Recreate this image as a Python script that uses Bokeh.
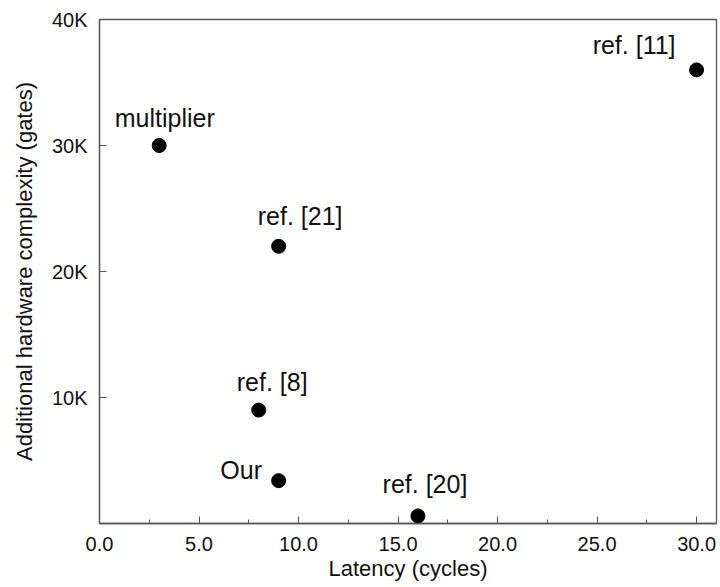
from bokeh.plotting import figure
from bokeh.models import ColumnDataSource, FixedTicker, Range1d
from bokeh.core.properties import value
from bokeh.embed import file_html
from bokeh.resources import INLINE

# data
names = ["multiplier", "ref. [21]", "ref. [8]", "Our", "ref. [20]", "ref. [11]"]
latency = [3, 9, 8, 9, 16, 30]
gates = [30000, 22000, 9000, 3400, 600, 36000]

x_ticks = [0, 5, 10, 15, 20, 25, 30]
x_tick_labels = ["0.0", "5.0", "10.0", "15.0", "20.0", "25.0", "30.0"]
y_ticks = [10000, 20000, 30000, 40000]
y_tick_labels = ["10K", "20K", "30K", "40K"]

# label placement (screen px)
lbl_dx = [5.5, 21.5, 13.5, -37.5, 7, -62.5]
lbl_dy = [-28, -30, -28, -11, -32, -25]

FONT = "Liberation Sans"

src = ColumnDataSource(dict(x=latency, y=gates, name=names, dx=lbl_dx, dy=lbl_dy))

p = figure(width=720, height=587, output_backend="svg", toolbar_location=None,
           x_range=Range1d(0, 31), y_range=Range1d(0, 40000),
           min_border_left=99, min_border_top=19, min_border_right=4, min_border_bottom=64)

p.xgrid.visible = False
p.ygrid.visible = False
p.outline_line_color = "#555555"
p.outline_line_width = 1.3
p.background_fill_color = "white"
p.border_fill_color = "white"

p.scatter("x", "y", source=src, size=14, color="black")
p.text("x", "y", text="name", source=src, x_offset="dx", y_offset="dy",
       text_align="center", text_baseline="alphabetic",
       text_font=value(FONT), text_font_size="25px", text_color="#111111")

minor = [(a + b) / 2 for a, b in zip(x_ticks[:-1], x_ticks[1:])]
p.xaxis.ticker = FixedTicker(ticks=x_ticks, minor_ticks=minor)
p.xaxis.major_label_overrides = {t: l for t, l in zip(x_ticks, x_tick_labels)}
p.yaxis.ticker = FixedTicker(ticks=y_ticks, minor_ticks=[])
p.yaxis.major_label_overrides = {t: l for t, l in zip(y_ticks, y_tick_labels)}

for ax in (p.xaxis, p.yaxis):
    ax.axis_line_color = "#555555"
    ax.axis_line_width = 1.3
    ax.major_tick_line_color = "#555555"
    ax.minor_tick_line_color = "#555555"
    ax.major_tick_in = 7
    ax.major_tick_out = 0
    ax.minor_tick_in = 4
    ax.minor_tick_out = 0
    ax.major_label_text_font = FONT
    ax.major_label_text_font_size = "20px"
    ax.major_label_text_color = "#111111"
    ax.axis_label_text_font = FONT
    ax.axis_label_text_font_size = "22px"
    ax.axis_label_text_font_style = "normal"
    ax.axis_label_text_color = "#111111"

p.xaxis.axis_label = "Latency (cycles)"
p.yaxis.axis_label = "Additional hardware complexity (gates)"
p.xaxis.major_label_standoff = 13
p.xaxis.axis_label_standoff = 2
p.yaxis.major_label_standoff = 12
p.yaxis.axis_label_standoff = 12

open("out.html", "w").write(file_html(p, INLINE))
